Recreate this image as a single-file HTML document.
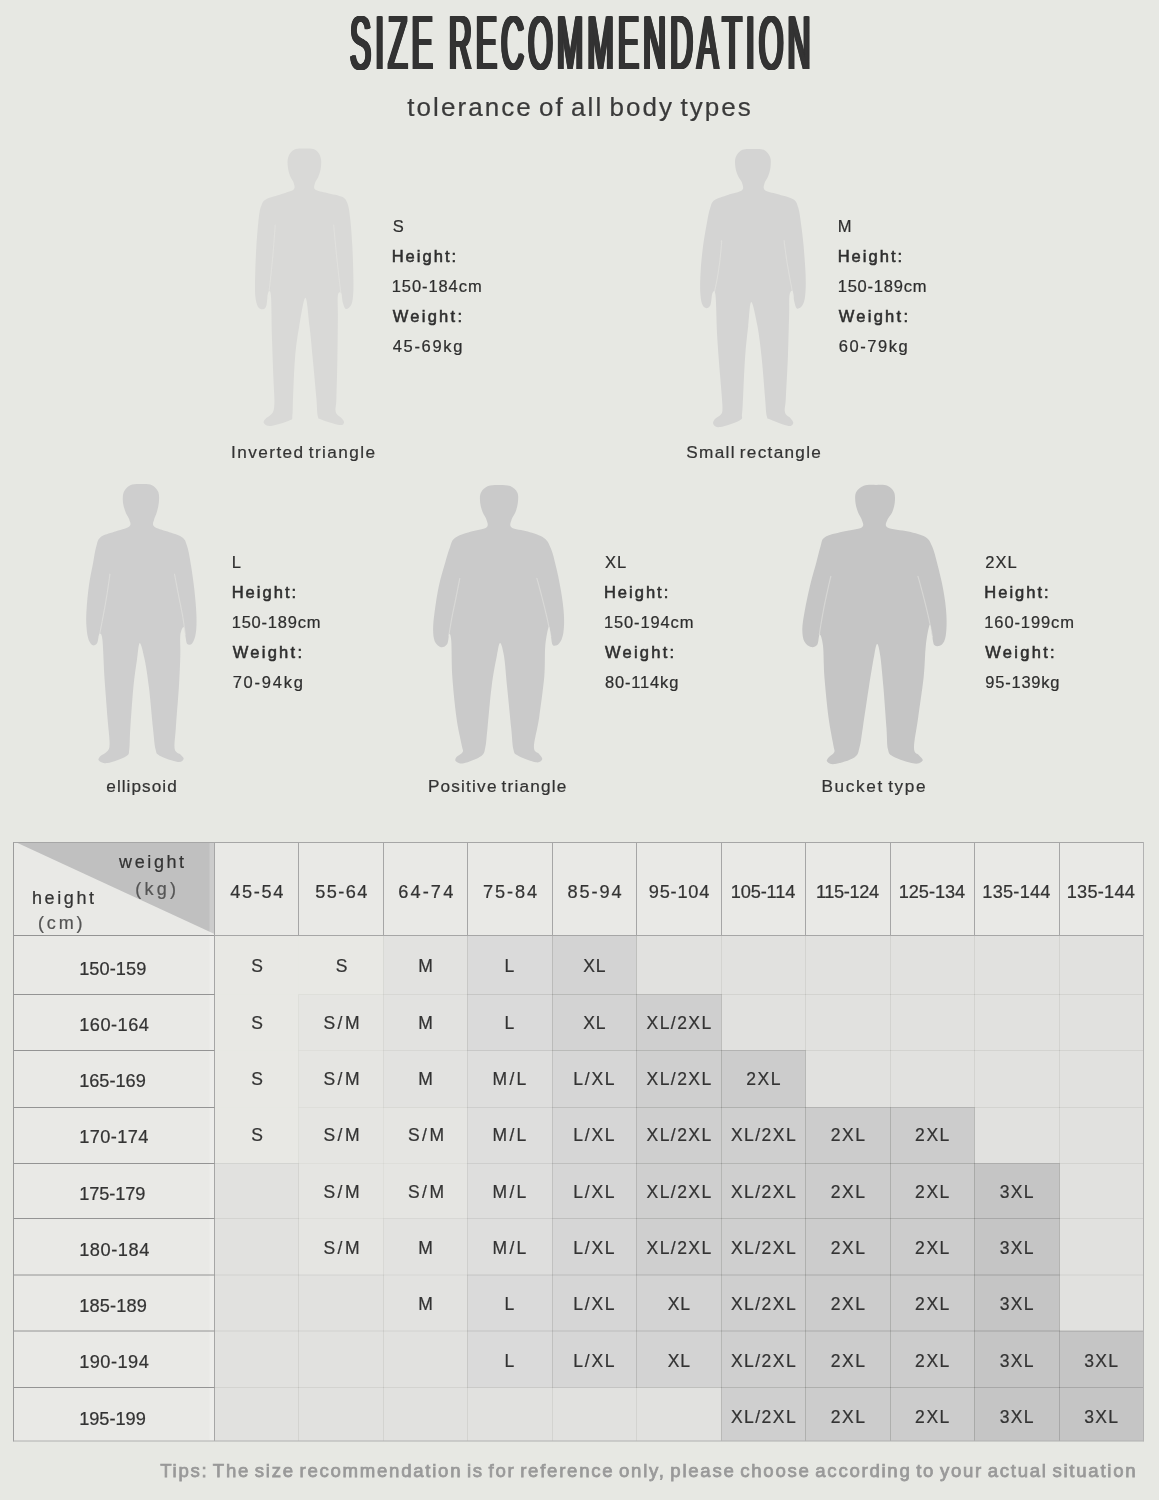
<!DOCTYPE html>
<html lang="en"><head><meta charset="utf-8"><title>Size Recommendation</title>
<style>
html,body{margin:0;padding:0;background:#e7e8e3;overflow:hidden;}
#page{position:relative;width:1159px;height:1500px;background:#e7e8e3;overflow:hidden;font-family:"Liberation Sans", sans-serif;color:#333;}
#gfx{position:absolute;left:0;top:0;}
#txt{position:absolute;left:0;top:0;width:1159px;height:1500px;will-change:transform;}
.t{position:absolute;white-space:nowrap;line-height:1;-webkit-text-stroke:.22px currentColor;}
.m{-webkit-text-stroke:.55px #2e2e2e;}
.tip{-webkit-text-stroke:.75px #999;}
#title{position:absolute;left:350.00px;top:5.6px;font-size:75.4px;line-height:1;white-space:nowrap;color:#333;
 font-kerning:none;letter-spacing:9.85px;word-spacing:-2.4px;transform-origin:0 0;transform:scaleX(0.42);
 text-shadow:1px 0 0 #333,-1px 0 0 #333,2px 0 0 #333,-2px 0 0 #333,3px 0 0 #333,-3px 0 0 #333,3.8px 0 0 #333,-3.8px 0 0 #333,0 .3px 0 #333,0 -.3px 0 #333;}
</style></head>
<body><div id="page">
<svg id="gfx" width="1159" height="1500" viewBox="0 0 1159 1500">
<path d="M304.8 148.6C308.2 148.6 312.1 148.3 314.7 149.6C317.3 151.0 319.5 153.9 320.5 156.9C321.5 159.8 321.3 163.9 320.9 167.2C320.6 170.5 319.4 173.9 318.4 176.5C317.5 179.1 315.7 180.5 315.1 182.7C314.6 184.9 313.1 187.8 315.1 189.5C317.1 191.2 322.5 191.7 327.1 193.0C331.7 194.3 339.2 195.3 342.6 197.1C346.0 199.0 346.5 200.8 347.8 204.4C349.0 208.0 349.5 212.0 350.2 218.8C351.0 225.7 351.8 236.4 352.3 245.7C352.8 255.0 353.2 266.4 353.3 274.6C353.5 282.9 353.6 290.1 353.1 295.3C352.7 300.5 352.1 303.3 350.9 305.6C349.6 307.9 347.0 309.4 345.7 308.9C344.4 308.4 343.6 305.1 342.8 302.5C342.1 299.9 342.0 294.4 341.2 293.2C340.3 292.0 338.4 291.5 337.9 295.3C337.3 299.1 337.9 305.6 337.9 316.0C337.8 326.3 337.7 343.5 337.4 357.3C337.2 371.0 336.7 389.5 336.4 398.6C336.1 407.7 334.9 408.8 335.8 412.0C336.6 415.3 340.2 416.5 341.6 418.2C342.9 419.9 344.4 421.2 344.0 422.4C343.7 423.5 343.2 425.5 339.5 425.0C335.8 424.6 325.6 421.2 321.9 419.7C318.3 418.2 318.7 419.7 317.8 416.2C316.9 412.6 317.2 408.4 316.4 398.6C315.5 388.8 313.8 369.3 312.6 357.3C311.5 345.2 310.8 336.2 309.5 326.3C308.3 316.4 307.1 297.8 305.4 297.8C303.7 297.8 300.9 316.4 299.2 326.3C297.5 336.2 296.1 345.2 295.1 357.3C294.0 369.3 293.5 389.0 293.0 398.6C292.6 408.2 292.9 411.5 292.4 415.1C291.9 418.7 293.4 418.5 289.9 420.3C286.4 422.1 275.6 425.4 271.3 425.9C267.0 426.4 265.1 424.5 264.1 423.4C263.1 422.3 263.7 421.0 265.1 419.3C266.5 417.5 270.8 415.8 272.4 413.1C273.9 410.3 274.2 408.6 274.4 402.7C274.6 396.9 273.8 389.0 273.4 377.9C273.0 366.9 272.4 350.4 271.9 336.6C271.5 322.8 271.6 302.5 270.9 295.3C270.3 288.1 268.8 291.5 268.0 293.2C267.3 294.9 267.2 302.9 266.4 305.6C265.5 308.3 264.5 309.2 263.1 309.3C261.6 309.5 259.2 309.0 257.9 306.7C256.6 304.3 255.7 300.6 255.2 295.3C254.8 290.0 255.0 282.9 255.2 274.6C255.4 266.4 255.8 255.3 256.4 245.7C257.1 236.1 258.1 223.5 258.9 216.8C259.8 210.1 260.2 208.3 261.4 205.4C262.6 202.5 262.8 201.1 266.2 199.2C269.5 197.3 277.1 195.7 281.7 194.0C286.2 192.4 291.6 191.4 293.6 189.5C295.6 187.6 294.2 184.9 293.6 182.7C293.1 180.5 291.3 179.1 290.3 176.5C289.4 173.9 288.2 170.5 287.9 167.2C287.5 163.9 287.2 159.8 288.3 156.9C289.4 153.9 291.7 151.0 294.5 149.6C297.2 148.3 301.4 148.6 304.8 148.6Z" fill="#d9d9d7"/><path d="M275.0 226.1C275.8 219.2 273.7 245.2 273.0 254.0C272.2 262.7 271.3 271.9 270.5 278.8C269.7 285.6 267.7 304.1 268.4 295.3" fill="none" stroke="#e7e8e3" stroke-opacity=".5" stroke-width="1.2" stroke-linecap="round"/><path d="M333.9 226.1C333.1 219.4 335.5 245.2 336.4 254.0C337.3 262.7 338.3 272.0 339.1 278.8C339.9 285.5 342.0 303.0 341.2 294.3" fill="none" stroke="#e7e8e3" stroke-opacity=".5" stroke-width="1.2" stroke-linecap="round"/>
<path d="M753.3 149.0C756.9 149.0 760.9 148.5 763.7 149.8C766.5 151.1 768.9 154.0 770.1 156.9C771.2 159.8 770.8 163.9 770.5 167.2C770.2 170.5 769.0 173.9 768.0 176.5C767.1 179.1 765.3 180.4 764.7 182.7C764.2 184.9 762.6 188.0 764.7 189.9C766.8 191.8 772.4 192.5 777.1 194.0C781.9 195.6 789.7 197.0 793.2 199.2C796.7 201.5 796.9 203.5 798.2 207.5C799.5 211.4 800.0 216.6 800.9 223.0C801.8 229.3 802.8 237.1 803.6 245.7C804.3 254.3 805.3 266.4 805.6 274.6C805.9 282.9 805.8 290.1 805.2 295.3C804.7 300.5 803.7 303.4 802.3 305.6C800.9 307.8 798.3 309.2 796.9 308.5C795.6 307.8 795.0 304.4 794.3 301.5C793.5 298.6 793.4 292.2 792.6 291.2C791.8 290.1 790.1 291.2 789.5 295.3C788.9 299.4 789.4 305.6 789.1 316.0C788.8 326.3 788.4 343.5 787.9 357.3C787.3 371.0 786.3 389.4 785.8 398.6C785.3 407.8 784.2 409.4 785.0 412.6C785.8 415.9 789.2 416.5 790.5 418.2C791.9 419.9 793.6 421.7 793.2 423.0C792.9 424.2 792.2 426.4 788.5 425.9C784.8 425.3 774.5 421.3 770.9 419.7C767.3 418.1 767.7 419.7 766.8 416.2C765.8 412.6 766.0 408.4 765.1 398.6C764.3 388.8 762.9 369.3 761.6 357.3C760.3 345.2 759.2 335.5 757.5 326.3C755.8 317.1 752.8 301.9 751.3 301.9C749.7 301.9 749.2 317.1 748.2 326.3C747.1 335.5 745.9 345.2 745.1 357.3C744.2 369.3 743.5 389.1 743.0 398.6C742.5 408.1 742.5 410.5 742.0 414.1C741.5 417.7 743.5 418.1 739.9 420.3C736.3 422.5 724.7 426.4 720.3 427.1C715.9 427.8 714.4 425.7 713.5 424.4C712.5 423.1 713.4 421.0 714.7 419.3C716.0 417.5 720.0 416.5 721.3 414.1C722.6 411.7 722.5 410.8 722.4 404.8C722.2 398.8 721.2 389.3 720.3 377.9C719.4 366.6 718.0 350.4 717.2 336.6C716.4 322.8 716.3 302.5 715.5 295.3C714.7 288.1 713.3 291.6 712.4 293.2C711.6 294.9 711.5 302.7 710.4 305.2C709.3 307.7 707.2 308.4 705.8 308.1C704.4 307.8 702.8 306.4 701.9 303.6C701.0 300.7 700.5 296.7 700.2 291.2C700.0 285.6 700.2 278.1 700.7 270.5C701.1 262.9 702.1 253.6 703.1 245.7C704.2 237.8 705.7 229.2 706.9 223.0C708.0 216.7 708.9 211.9 710.2 208.1C711.4 204.3 711.3 202.5 714.3 200.2C717.3 198.0 723.3 196.5 727.9 194.9C732.5 193.2 739.6 192.4 742.0 190.3C744.3 188.3 742.6 185.0 742.0 182.7C741.4 180.4 739.4 179.1 738.3 176.5C737.2 173.9 735.8 170.5 735.4 167.2C735.0 163.9 734.6 159.8 735.8 156.9C737.0 154.0 739.5 151.1 742.4 149.8C745.3 148.5 749.8 149.0 753.3 149.0Z" fill="#d4d4d3"/><path d="M721.3 241.6C722.4 236.1 720.5 255.3 719.7 262.2C718.8 269.1 717.5 277.4 716.4 282.9C715.3 288.4 712.2 302.2 713.1 295.3" fill="none" stroke="#e7e8e3" stroke-opacity=".5" stroke-width="1.2" stroke-linecap="round"/><path d="M784.3 241.6C783.3 236.1 786.0 255.3 787.0 262.2C788.1 269.1 789.7 277.4 790.7 282.9C791.8 288.4 794.3 302.2 793.2 295.3" fill="none" stroke="#e7e8e3" stroke-opacity=".5" stroke-width="1.2" stroke-linecap="round"/>
<path d="M141.7 484.1C145.3 484.1 149.2 483.9 152.0 485.3C154.8 486.7 157.3 489.4 158.4 492.3C159.5 495.3 159.1 499.7 158.8 503.1C158.5 506.4 157.5 509.6 156.7 512.4C156.0 515.1 154.5 517.3 154.1 519.6C153.6 522.0 151.8 524.4 154.1 526.4C156.3 528.4 162.8 529.8 167.5 531.6C172.1 533.4 178.7 534.9 182.0 537.2C185.2 539.5 185.5 541.1 186.9 545.5C188.4 549.8 189.4 555.6 190.6 563.0C191.9 570.4 193.4 581.3 194.4 589.9C195.3 598.5 196.2 607.5 196.4 614.7C196.7 621.9 196.5 628.6 195.8 633.3C195.1 638.1 193.7 641.4 192.3 643.2C190.9 645.0 188.5 645.4 187.3 644.1C186.2 642.7 185.9 638.2 185.3 635.4C184.7 632.5 184.4 627.1 183.6 627.1C182.8 627.1 180.9 630.6 180.3 635.4C179.8 640.2 180.6 647.4 180.3 656.0C180.1 664.7 179.6 675.0 178.9 687.1C178.1 699.1 176.5 718.1 175.8 728.4C175.1 738.7 173.9 744.7 174.7 749.1C175.6 753.5 179.4 753.2 180.9 754.9C182.4 756.5 184.1 757.8 183.6 759.0C183.1 760.2 181.8 762.4 177.8 761.9C173.8 761.3 163.4 757.8 159.6 755.7C155.9 753.5 156.6 753.6 155.5 749.1C154.4 744.5 154.1 738.7 153.0 728.4C151.9 718.1 150.3 698.4 148.9 687.1C147.5 675.7 146.3 667.5 144.8 660.2C143.2 652.8 141.1 643.0 139.8 643.0C138.5 643.0 138.0 652.8 136.9 660.2C135.8 667.5 134.5 675.7 133.4 687.1C132.3 698.4 131.0 718.1 130.3 728.4C129.6 738.7 129.9 744.4 129.3 749.1C128.6 753.7 129.8 754.0 126.1 756.3C122.5 758.6 112.1 762.4 107.5 763.1C103.0 763.8 100.1 761.6 98.9 760.4C97.7 759.3 98.9 757.9 100.3 756.3C101.8 754.8 106.0 753.4 107.5 751.1C109.1 748.9 109.6 748.4 109.6 742.9C109.6 737.4 108.4 729.1 107.5 718.1C106.7 707.0 105.3 689.8 104.4 676.7C103.6 663.6 103.2 646.6 102.4 639.5C101.5 632.4 100.1 633.8 99.3 634.3C98.4 634.9 98.3 641.2 97.2 643.0C96.1 644.8 94.1 645.9 92.7 645.3C91.2 644.7 89.6 642.5 88.5 639.5C87.5 636.5 86.8 631.9 86.5 627.1C86.1 622.3 86.0 617.5 86.5 610.6C86.9 603.7 87.8 593.7 88.9 585.8C90.0 577.8 91.8 569.6 93.1 563.0C94.3 556.4 95.1 550.4 96.4 546.1C97.6 541.8 97.6 539.6 100.5 537.2C103.5 534.8 109.4 533.6 114.2 531.8C118.9 530.0 126.7 528.5 129.3 526.4C131.8 524.4 129.8 522.0 129.3 519.6C128.7 517.3 126.8 515.1 125.7 512.4C124.7 509.6 123.4 506.4 123.0 503.1C122.7 499.7 122.5 495.3 123.7 492.3C124.9 489.4 127.3 486.7 130.3 485.3C133.3 483.9 138.0 484.1 141.7 484.1Z" fill="#cecece"/><path d="M109.6 575.4C110.8 569.2 107.8 589.2 106.7 596.1C105.6 603.0 104.2 610.6 103.0 616.8C101.8 623.0 98.6 640.2 99.7 633.3" fill="none" stroke="#e7e8e3" stroke-opacity=".5" stroke-width="1.2" stroke-linecap="round"/><path d="M174.7 575.4C173.7 569.2 177.3 589.2 178.7 596.1C180.0 603.0 181.8 610.6 182.8 616.8C183.8 623.0 186.2 640.2 184.9 633.3" fill="none" stroke="#e7e8e3" stroke-opacity=".5" stroke-width="1.2" stroke-linecap="round"/>
<path d="M498.8 484.9C502.5 484.9 507.1 484.8 510.2 486.1C513.3 487.4 516.1 489.9 517.4 492.7C518.7 495.5 518.2 499.8 517.8 503.1C517.5 506.3 516.4 509.6 515.4 512.3C514.3 515.1 512.3 517.1 511.6 519.6C511.0 522.1 508.9 525.4 511.6 527.4C514.3 529.4 522.3 529.8 527.7 531.6C533.2 533.3 540.4 535.3 544.3 538.2C548.1 541.0 549.0 544.0 550.9 548.5C552.8 553.0 554.0 558.1 555.6 565.0C557.3 571.9 559.4 581.5 560.8 589.8C562.2 598.1 563.5 607.4 563.9 614.6C564.3 621.8 564.1 628.4 563.3 633.2C562.5 638.0 560.9 641.5 559.1 643.5C557.4 645.5 554.3 646.4 552.9 645.2C551.6 644.0 551.6 639.3 550.9 636.3C550.2 633.3 549.7 625.4 548.8 627.0C547.9 628.5 546.1 637.3 545.3 645.6C544.5 653.8 545.3 664.5 544.3 676.6C543.2 688.6 540.8 706.2 539.1 717.9C537.4 729.6 533.9 740.8 533.9 746.8C533.9 752.8 537.7 752.0 539.1 754.0C540.5 756.1 542.7 757.8 542.2 759.2C541.7 760.6 540.1 762.9 536.0 762.3C531.9 761.7 521.6 757.7 517.8 755.5C514.0 753.2 514.4 753.4 513.3 748.9C512.2 744.3 512.3 738.5 511.2 728.2C510.2 717.9 508.3 698.9 507.1 686.9C505.9 674.8 505.2 663.2 504.0 655.9C502.8 648.6 501.3 642.9 500.1 642.9C498.9 642.9 498.2 648.6 496.8 655.9C495.3 663.2 493.1 674.8 491.6 686.9C490.0 698.9 488.5 718.2 487.5 728.2C486.4 738.2 486.4 742.2 485.4 746.8C484.4 751.5 484.9 753.3 481.3 756.1C477.7 758.9 467.9 762.5 463.7 763.3C459.5 764.2 457.1 762.3 455.9 761.3C454.7 760.2 455.3 758.7 456.5 757.1C457.6 755.6 461.8 754.0 462.7 752.0C463.5 749.9 462.7 750.4 461.6 744.7C460.6 739.1 458.0 729.2 456.5 717.9C454.9 706.5 453.2 689.3 452.3 676.6C451.5 663.8 451.8 648.5 451.3 641.5C450.8 634.4 449.9 633.8 449.2 634.2C448.6 634.6 448.6 641.8 447.2 643.9C445.8 646.1 443.1 647.6 441.0 647.2C438.9 646.8 436.1 644.5 434.8 641.5C433.5 638.4 433.1 634.2 433.1 629.1C433.1 623.9 433.8 617.7 434.8 610.5C435.8 603.2 437.2 593.6 438.9 585.7C440.6 577.8 443.3 569.2 445.1 563.0C446.9 556.7 448.1 552.2 449.7 548.1C451.2 544.0 451.2 540.9 454.6 538.2C458.1 535.4 465.0 533.6 470.3 531.8C475.6 530.0 483.7 529.5 486.4 527.4C489.1 525.4 487.1 522.1 486.4 519.6C485.8 517.1 483.7 515.1 482.7 512.3C481.7 509.6 480.5 506.3 480.2 503.1C479.9 499.8 479.5 495.5 480.9 492.7C482.2 489.9 485.1 487.4 488.1 486.1C491.1 484.8 495.1 484.9 498.8 484.9Z" fill="#cacaca"/><path d="M459.6 579.5C460.7 573.5 457.2 591.5 455.9 598.1C454.6 604.6 452.8 612.7 451.7 618.7C450.6 624.8 447.9 640.8 449.2 634.2" fill="none" stroke="#e7e8e3" stroke-opacity=".5" stroke-width="1.2" stroke-linecap="round"/><path d="M537.0 579.5C535.7 573.3 540.5 591.5 542.2 598.1C543.9 604.6 545.8 612.5 547.2 618.7C548.5 624.9 552.2 641.8 550.5 635.3" fill="none" stroke="#e7e8e3" stroke-opacity=".5" stroke-width="1.2" stroke-linecap="round"/>
<path d="M876.1 484.9C880.1 484.9 884.5 484.5 887.5 485.7C890.5 487.0 892.9 489.4 894.1 492.3C895.3 495.2 895.1 499.7 894.7 503.1C894.4 506.4 893.3 509.6 892.1 512.4C890.8 515.1 888.3 517.1 887.5 519.6C886.7 522.1 884.1 525.5 887.5 527.5C891.0 529.5 901.8 530.0 908.2 531.6C914.6 533.2 921.8 534.7 925.8 537.2C929.7 539.7 930.3 542.2 932.2 546.5C934.1 550.8 935.3 555.8 937.1 563.0C939.0 570.3 941.8 581.3 943.3 589.9C944.9 598.5 946.0 607.1 946.4 614.7C946.8 622.3 946.6 630.4 945.8 635.4C945.0 640.4 943.5 643.0 941.7 644.7C939.8 646.3 936.2 646.7 934.6 645.3C933.1 643.9 933.0 639.8 932.2 636.4C931.3 633.0 930.7 623.5 929.7 625.1C928.6 626.6 926.8 637.1 925.8 645.7C924.8 654.3 925.0 664.7 923.7 676.7C922.4 688.8 919.7 706.2 918.1 718.1C916.5 730.0 913.8 741.9 914.0 748.1C914.1 754.3 917.5 753.2 918.9 755.3C920.4 757.4 923.4 759.1 922.7 760.5C921.9 761.8 919.3 764.2 914.4 763.6C909.5 762.9 897.5 759.0 893.1 756.5C888.7 754.1 889.0 753.8 887.9 749.1C886.8 744.4 887.2 738.8 886.5 728.4C885.7 718.1 884.4 699.1 883.4 687.1C882.3 675.0 881.3 663.2 880.3 656.1C879.2 648.9 878.2 644.1 877.2 644.1C876.1 644.1 875.4 648.9 874.1 656.1C872.7 663.2 870.8 675.0 868.9 687.1C867.0 699.1 864.2 718.4 862.7 728.4C861.1 738.4 861.0 742.2 859.6 747.0C858.2 751.9 858.6 754.5 854.4 757.4C850.3 760.2 839.3 763.3 834.8 764.0C830.2 764.7 828.2 762.6 827.1 761.5C826.1 760.4 827.4 758.9 828.6 757.4C829.8 755.8 833.4 754.3 834.2 752.2C835.0 750.1 834.3 750.6 833.3 745.0C832.4 739.3 830.1 729.5 828.6 718.1C827.1 706.7 825.4 688.8 824.4 676.7C823.5 664.7 823.8 652.8 823.0 645.7C822.2 638.7 820.7 634.5 819.7 634.4C818.7 634.2 818.7 642.6 817.2 644.7C815.8 646.8 813.1 647.5 811.0 647.0C808.9 646.5 805.8 644.6 804.4 641.6C802.9 638.6 802.3 634.4 802.3 629.2C802.4 624.0 803.5 617.8 804.8 610.6C806.1 603.3 808.1 593.7 810.0 585.8C811.9 577.8 814.4 569.6 816.2 563.0C817.9 556.5 819.1 550.8 820.5 546.5C822.0 542.2 821.2 539.6 824.9 537.2C828.5 534.7 836.3 533.4 842.4 531.8C848.6 530.2 858.5 529.5 861.7 527.5C864.9 525.4 862.2 522.1 861.7 519.6C861.1 517.1 859.2 515.1 858.1 512.4C857.1 509.6 855.8 506.4 855.5 503.1C855.1 499.7 854.7 495.2 856.1 492.3C857.5 489.4 860.4 487.0 863.7 485.7C867.1 484.5 872.2 484.9 876.1 484.9Z" fill="#c5c5c5"/><path d="M830.7 577.5C831.8 571.3 827.7 589.7 826.3 596.1C824.9 602.5 823.5 609.5 822.4 615.8C821.3 622.0 818.3 639.7 819.7 633.3" fill="none" stroke="#e7e8e3" stroke-opacity=".5" stroke-width="1.2" stroke-linecap="round"/><path d="M918.1 577.5C916.8 571.3 922.1 591.3 923.9 598.2C925.7 605.1 927.5 612.7 928.9 618.9C930.2 625.1 933.7 642.3 932.0 635.4" fill="none" stroke="#e7e8e3" stroke-opacity=".5" stroke-width="1.2" stroke-linecap="round"/>
<rect x="13.5" y="842.5" width="1130.0" height="93.0" fill="#e9e9e6"/>
<path d="M16.5 842.5 L214.5 842.5 L214.5 934.0 Z" fill="#c0c0c0"/>
<rect x="13.5" y="935.5" width="201.0" height="505.5" fill="#e9e9e6"/>
<rect x="214.5" y="935.5" width="84.0" height="59.0" fill="#e8e8e4"/>
<rect x="298.5" y="935.5" width="85.0" height="59.0" fill="#e8e8e4"/>
<rect x="383.5" y="935.5" width="84.0" height="59.0" fill="#e2e2e0"/>
<rect x="467.5" y="935.5" width="85.0" height="59.0" fill="#dadada"/>
<rect x="552.5" y="935.5" width="84.0" height="59.0" fill="#d3d3d3"/>
<rect x="636.5" y="935.5" width="85.0" height="59.0" fill="#e1e1df"/>
<rect x="721.5" y="935.5" width="84.0" height="59.0" fill="#e1e1df"/>
<rect x="805.5" y="935.5" width="85.0" height="59.0" fill="#e1e1df"/>
<rect x="890.5" y="935.5" width="84.0" height="59.0" fill="#e1e1df"/>
<rect x="974.5" y="935.5" width="85.0" height="59.0" fill="#e1e1df"/>
<rect x="1059.5" y="935.5" width="84.0" height="59.0" fill="#e1e1df"/>
<rect x="214.5" y="994.5" width="84.0" height="56.0" fill="#e8e8e4"/>
<rect x="298.5" y="994.5" width="85.0" height="56.0" fill="#e5e5e2"/>
<rect x="383.5" y="994.5" width="84.0" height="56.0" fill="#e2e2e0"/>
<rect x="467.5" y="994.5" width="85.0" height="56.0" fill="#dadada"/>
<rect x="552.5" y="994.5" width="84.0" height="56.0" fill="#d3d3d3"/>
<rect x="636.5" y="994.5" width="85.0" height="56.0" fill="#cfcfcf"/>
<rect x="721.5" y="994.5" width="84.0" height="56.0" fill="#e1e1df"/>
<rect x="805.5" y="994.5" width="85.0" height="56.0" fill="#e1e1df"/>
<rect x="890.5" y="994.5" width="84.0" height="56.0" fill="#e1e1df"/>
<rect x="974.5" y="994.5" width="85.0" height="56.0" fill="#e1e1df"/>
<rect x="1059.5" y="994.5" width="84.0" height="56.0" fill="#e1e1df"/>
<rect x="214.5" y="1050.5" width="84.0" height="57.0" fill="#e8e8e4"/>
<rect x="298.5" y="1050.5" width="85.0" height="57.0" fill="#e5e5e2"/>
<rect x="383.5" y="1050.5" width="84.0" height="57.0" fill="#e2e2e0"/>
<rect x="467.5" y="1050.5" width="85.0" height="57.0" fill="#dededd"/>
<rect x="552.5" y="1050.5" width="84.0" height="57.0" fill="#d6d6d6"/>
<rect x="636.5" y="1050.5" width="85.0" height="57.0" fill="#cfcfcf"/>
<rect x="721.5" y="1050.5" width="84.0" height="57.0" fill="#cccccc"/>
<rect x="805.5" y="1050.5" width="85.0" height="57.0" fill="#e1e1df"/>
<rect x="890.5" y="1050.5" width="84.0" height="57.0" fill="#e1e1df"/>
<rect x="974.5" y="1050.5" width="85.0" height="57.0" fill="#e1e1df"/>
<rect x="1059.5" y="1050.5" width="84.0" height="57.0" fill="#e1e1df"/>
<rect x="214.5" y="1107.5" width="84.0" height="56.0" fill="#e8e8e4"/>
<rect x="298.5" y="1107.5" width="85.0" height="56.0" fill="#e5e5e2"/>
<rect x="383.5" y="1107.5" width="84.0" height="56.0" fill="#e5e5e2"/>
<rect x="467.5" y="1107.5" width="85.0" height="56.0" fill="#dededd"/>
<rect x="552.5" y="1107.5" width="84.0" height="56.0" fill="#d6d6d6"/>
<rect x="636.5" y="1107.5" width="85.0" height="56.0" fill="#cfcfcf"/>
<rect x="721.5" y="1107.5" width="84.0" height="56.0" fill="#cfcfcf"/>
<rect x="805.5" y="1107.5" width="85.0" height="56.0" fill="#cccccc"/>
<rect x="890.5" y="1107.5" width="84.0" height="56.0" fill="#cccccc"/>
<rect x="974.5" y="1107.5" width="85.0" height="56.0" fill="#e1e1df"/>
<rect x="1059.5" y="1107.5" width="84.0" height="56.0" fill="#e1e1df"/>
<rect x="214.5" y="1163.5" width="84.0" height="55.0" fill="#e1e1df"/>
<rect x="298.5" y="1163.5" width="85.0" height="55.0" fill="#e5e5e2"/>
<rect x="383.5" y="1163.5" width="84.0" height="55.0" fill="#e5e5e2"/>
<rect x="467.5" y="1163.5" width="85.0" height="55.0" fill="#dededd"/>
<rect x="552.5" y="1163.5" width="84.0" height="55.0" fill="#d6d6d6"/>
<rect x="636.5" y="1163.5" width="85.0" height="55.0" fill="#cfcfcf"/>
<rect x="721.5" y="1163.5" width="84.0" height="55.0" fill="#cfcfcf"/>
<rect x="805.5" y="1163.5" width="85.0" height="55.0" fill="#cccccc"/>
<rect x="890.5" y="1163.5" width="84.0" height="55.0" fill="#cccccc"/>
<rect x="974.5" y="1163.5" width="85.0" height="55.0" fill="#c5c5c5"/>
<rect x="1059.5" y="1163.5" width="84.0" height="55.0" fill="#e1e1df"/>
<rect x="214.5" y="1218.5" width="84.0" height="56.5" fill="#e1e1df"/>
<rect x="298.5" y="1218.5" width="85.0" height="56.5" fill="#e5e5e2"/>
<rect x="383.5" y="1218.5" width="84.0" height="56.5" fill="#e2e2e0"/>
<rect x="467.5" y="1218.5" width="85.0" height="56.5" fill="#dededd"/>
<rect x="552.5" y="1218.5" width="84.0" height="56.5" fill="#d6d6d6"/>
<rect x="636.5" y="1218.5" width="85.0" height="56.5" fill="#cfcfcf"/>
<rect x="721.5" y="1218.5" width="84.0" height="56.5" fill="#cfcfcf"/>
<rect x="805.5" y="1218.5" width="85.0" height="56.5" fill="#cccccc"/>
<rect x="890.5" y="1218.5" width="84.0" height="56.5" fill="#cccccc"/>
<rect x="974.5" y="1218.5" width="85.0" height="56.5" fill="#c5c5c5"/>
<rect x="1059.5" y="1218.5" width="84.0" height="56.5" fill="#e1e1df"/>
<rect x="214.5" y="1275.0" width="84.0" height="56.0" fill="#e1e1df"/>
<rect x="298.5" y="1275.0" width="85.0" height="56.0" fill="#e1e1df"/>
<rect x="383.5" y="1275.0" width="84.0" height="56.0" fill="#e2e2e0"/>
<rect x="467.5" y="1275.0" width="85.0" height="56.0" fill="#dadada"/>
<rect x="552.5" y="1275.0" width="84.0" height="56.0" fill="#d6d6d6"/>
<rect x="636.5" y="1275.0" width="85.0" height="56.0" fill="#d3d3d3"/>
<rect x="721.5" y="1275.0" width="84.0" height="56.0" fill="#cfcfcf"/>
<rect x="805.5" y="1275.0" width="85.0" height="56.0" fill="#cccccc"/>
<rect x="890.5" y="1275.0" width="84.0" height="56.0" fill="#cccccc"/>
<rect x="974.5" y="1275.0" width="85.0" height="56.0" fill="#c5c5c5"/>
<rect x="1059.5" y="1275.0" width="84.0" height="56.0" fill="#e1e1df"/>
<rect x="214.5" y="1331.0" width="84.0" height="56.5" fill="#e1e1df"/>
<rect x="298.5" y="1331.0" width="85.0" height="56.5" fill="#e1e1df"/>
<rect x="383.5" y="1331.0" width="84.0" height="56.5" fill="#e1e1df"/>
<rect x="467.5" y="1331.0" width="85.0" height="56.5" fill="#dadada"/>
<rect x="552.5" y="1331.0" width="84.0" height="56.5" fill="#d6d6d6"/>
<rect x="636.5" y="1331.0" width="85.0" height="56.5" fill="#d3d3d3"/>
<rect x="721.5" y="1331.0" width="84.0" height="56.5" fill="#cfcfcf"/>
<rect x="805.5" y="1331.0" width="85.0" height="56.5" fill="#cccccc"/>
<rect x="890.5" y="1331.0" width="84.0" height="56.5" fill="#cccccc"/>
<rect x="974.5" y="1331.0" width="85.0" height="56.5" fill="#c5c5c5"/>
<rect x="1059.5" y="1331.0" width="84.0" height="56.5" fill="#c5c5c5"/>
<rect x="214.5" y="1387.5" width="84.0" height="53.5" fill="#e1e1df"/>
<rect x="298.5" y="1387.5" width="85.0" height="53.5" fill="#e1e1df"/>
<rect x="383.5" y="1387.5" width="84.0" height="53.5" fill="#e1e1df"/>
<rect x="467.5" y="1387.5" width="85.0" height="53.5" fill="#e1e1df"/>
<rect x="552.5" y="1387.5" width="84.0" height="53.5" fill="#e1e1df"/>
<rect x="636.5" y="1387.5" width="85.0" height="53.5" fill="#e1e1df"/>
<rect x="721.5" y="1387.5" width="84.0" height="53.5" fill="#cfcfcf"/>
<rect x="805.5" y="1387.5" width="85.0" height="53.5" fill="#cccccc"/>
<rect x="890.5" y="1387.5" width="84.0" height="53.5" fill="#cccccc"/>
<rect x="974.5" y="1387.5" width="85.0" height="53.5" fill="#c5c5c5"/>
<rect x="1059.5" y="1387.5" width="84.0" height="53.5" fill="#c5c5c5"/>
<line x1="383.5" y1="935.5" x2="383.5" y2="994.5" stroke="#000" stroke-opacity="0.05" stroke-width="1"/>
<line x1="298.5" y1="994.5" x2="383.5" y2="994.5" stroke="#000" stroke-opacity="0.03" stroke-width="1"/>
<line x1="467.5" y1="935.5" x2="467.5" y2="994.5" stroke="#000" stroke-opacity="0.1" stroke-width="1"/>
<line x1="383.5" y1="994.5" x2="467.5" y2="994.5" stroke="#000" stroke-opacity="0.05" stroke-width="1"/>
<line x1="552.5" y1="935.5" x2="552.5" y2="994.5" stroke="#000" stroke-opacity="0.14" stroke-width="1"/>
<line x1="467.5" y1="994.5" x2="552.5" y2="994.5" stroke="#000" stroke-opacity="0.1" stroke-width="1"/>
<line x1="636.5" y1="935.5" x2="636.5" y2="994.5" stroke="#000" stroke-opacity="0.14" stroke-width="1"/>
<line x1="552.5" y1="994.5" x2="636.5" y2="994.5" stroke="#000" stroke-opacity="0.14" stroke-width="1"/>
<line x1="721.5" y1="935.5" x2="721.5" y2="994.5" stroke="#000" stroke-opacity="0.07" stroke-width="1"/>
<line x1="636.5" y1="994.5" x2="721.5" y2="994.5" stroke="#000" stroke-opacity="0.15" stroke-width="1"/>
<line x1="805.5" y1="935.5" x2="805.5" y2="994.5" stroke="#000" stroke-opacity="0.07" stroke-width="1"/>
<line x1="721.5" y1="994.5" x2="805.5" y2="994.5" stroke="#000" stroke-opacity="0.07" stroke-width="1"/>
<line x1="890.5" y1="935.5" x2="890.5" y2="994.5" stroke="#000" stroke-opacity="0.07" stroke-width="1"/>
<line x1="805.5" y1="994.5" x2="890.5" y2="994.5" stroke="#000" stroke-opacity="0.07" stroke-width="1"/>
<line x1="974.5" y1="935.5" x2="974.5" y2="994.5" stroke="#000" stroke-opacity="0.07" stroke-width="1"/>
<line x1="890.5" y1="994.5" x2="974.5" y2="994.5" stroke="#000" stroke-opacity="0.07" stroke-width="1"/>
<line x1="1059.5" y1="935.5" x2="1059.5" y2="994.5" stroke="#000" stroke-opacity="0.07" stroke-width="1"/>
<line x1="974.5" y1="994.5" x2="1059.5" y2="994.5" stroke="#000" stroke-opacity="0.07" stroke-width="1"/>
<line x1="1059.5" y1="994.5" x2="1143.5" y2="994.5" stroke="#000" stroke-opacity="0.07" stroke-width="1"/>
<line x1="298.5" y1="994.5" x2="298.5" y2="1050.5" stroke="#000" stroke-opacity="0.03" stroke-width="1"/>
<line x1="383.5" y1="994.5" x2="383.5" y2="1050.5" stroke="#000" stroke-opacity="0.05" stroke-width="1"/>
<line x1="298.5" y1="1050.5" x2="383.5" y2="1050.5" stroke="#000" stroke-opacity="0.03" stroke-width="1"/>
<line x1="467.5" y1="994.5" x2="467.5" y2="1050.5" stroke="#000" stroke-opacity="0.1" stroke-width="1"/>
<line x1="383.5" y1="1050.5" x2="467.5" y2="1050.5" stroke="#000" stroke-opacity="0.05" stroke-width="1"/>
<line x1="552.5" y1="994.5" x2="552.5" y2="1050.5" stroke="#000" stroke-opacity="0.14" stroke-width="1"/>
<line x1="467.5" y1="1050.5" x2="552.5" y2="1050.5" stroke="#000" stroke-opacity="0.1" stroke-width="1"/>
<line x1="636.5" y1="994.5" x2="636.5" y2="1050.5" stroke="#000" stroke-opacity="0.15" stroke-width="1"/>
<line x1="552.5" y1="1050.5" x2="636.5" y2="1050.5" stroke="#000" stroke-opacity="0.14" stroke-width="1"/>
<line x1="721.5" y1="994.5" x2="721.5" y2="1050.5" stroke="#000" stroke-opacity="0.15" stroke-width="1"/>
<line x1="636.5" y1="1050.5" x2="721.5" y2="1050.5" stroke="#000" stroke-opacity="0.15" stroke-width="1"/>
<line x1="805.5" y1="994.5" x2="805.5" y2="1050.5" stroke="#000" stroke-opacity="0.07" stroke-width="1"/>
<line x1="721.5" y1="1050.5" x2="805.5" y2="1050.5" stroke="#000" stroke-opacity="0.17" stroke-width="1"/>
<line x1="890.5" y1="994.5" x2="890.5" y2="1050.5" stroke="#000" stroke-opacity="0.07" stroke-width="1"/>
<line x1="805.5" y1="1050.5" x2="890.5" y2="1050.5" stroke="#000" stroke-opacity="0.07" stroke-width="1"/>
<line x1="974.5" y1="994.5" x2="974.5" y2="1050.5" stroke="#000" stroke-opacity="0.07" stroke-width="1"/>
<line x1="890.5" y1="1050.5" x2="974.5" y2="1050.5" stroke="#000" stroke-opacity="0.07" stroke-width="1"/>
<line x1="1059.5" y1="994.5" x2="1059.5" y2="1050.5" stroke="#000" stroke-opacity="0.07" stroke-width="1"/>
<line x1="974.5" y1="1050.5" x2="1059.5" y2="1050.5" stroke="#000" stroke-opacity="0.07" stroke-width="1"/>
<line x1="1059.5" y1="1050.5" x2="1143.5" y2="1050.5" stroke="#000" stroke-opacity="0.07" stroke-width="1"/>
<line x1="298.5" y1="1050.5" x2="298.5" y2="1107.5" stroke="#000" stroke-opacity="0.03" stroke-width="1"/>
<line x1="383.5" y1="1050.5" x2="383.5" y2="1107.5" stroke="#000" stroke-opacity="0.05" stroke-width="1"/>
<line x1="298.5" y1="1107.5" x2="383.5" y2="1107.5" stroke="#000" stroke-opacity="0.03" stroke-width="1"/>
<line x1="467.5" y1="1050.5" x2="467.5" y2="1107.5" stroke="#000" stroke-opacity="0.08" stroke-width="1"/>
<line x1="383.5" y1="1107.5" x2="467.5" y2="1107.5" stroke="#000" stroke-opacity="0.05" stroke-width="1"/>
<line x1="552.5" y1="1050.5" x2="552.5" y2="1107.5" stroke="#000" stroke-opacity="0.12" stroke-width="1"/>
<line x1="467.5" y1="1107.5" x2="552.5" y2="1107.5" stroke="#000" stroke-opacity="0.08" stroke-width="1"/>
<line x1="636.5" y1="1050.5" x2="636.5" y2="1107.5" stroke="#000" stroke-opacity="0.15" stroke-width="1"/>
<line x1="552.5" y1="1107.5" x2="636.5" y2="1107.5" stroke="#000" stroke-opacity="0.12" stroke-width="1"/>
<line x1="721.5" y1="1050.5" x2="721.5" y2="1107.5" stroke="#000" stroke-opacity="0.17" stroke-width="1"/>
<line x1="636.5" y1="1107.5" x2="721.5" y2="1107.5" stroke="#000" stroke-opacity="0.15" stroke-width="1"/>
<line x1="805.5" y1="1050.5" x2="805.5" y2="1107.5" stroke="#000" stroke-opacity="0.17" stroke-width="1"/>
<line x1="721.5" y1="1107.5" x2="805.5" y2="1107.5" stroke="#000" stroke-opacity="0.17" stroke-width="1"/>
<line x1="890.5" y1="1050.5" x2="890.5" y2="1107.5" stroke="#000" stroke-opacity="0.07" stroke-width="1"/>
<line x1="805.5" y1="1107.5" x2="890.5" y2="1107.5" stroke="#000" stroke-opacity="0.17" stroke-width="1"/>
<line x1="974.5" y1="1050.5" x2="974.5" y2="1107.5" stroke="#000" stroke-opacity="0.07" stroke-width="1"/>
<line x1="890.5" y1="1107.5" x2="974.5" y2="1107.5" stroke="#000" stroke-opacity="0.17" stroke-width="1"/>
<line x1="1059.5" y1="1050.5" x2="1059.5" y2="1107.5" stroke="#000" stroke-opacity="0.07" stroke-width="1"/>
<line x1="974.5" y1="1107.5" x2="1059.5" y2="1107.5" stroke="#000" stroke-opacity="0.07" stroke-width="1"/>
<line x1="1059.5" y1="1107.5" x2="1143.5" y2="1107.5" stroke="#000" stroke-opacity="0.07" stroke-width="1"/>
<line x1="298.5" y1="1107.5" x2="298.5" y2="1163.5" stroke="#000" stroke-opacity="0.03" stroke-width="1"/>
<line x1="214.5" y1="1163.5" x2="298.5" y2="1163.5" stroke="#000" stroke-opacity="0.07" stroke-width="1"/>
<line x1="383.5" y1="1107.5" x2="383.5" y2="1163.5" stroke="#000" stroke-opacity="0.03" stroke-width="1"/>
<line x1="298.5" y1="1163.5" x2="383.5" y2="1163.5" stroke="#000" stroke-opacity="0.03" stroke-width="1"/>
<line x1="467.5" y1="1107.5" x2="467.5" y2="1163.5" stroke="#000" stroke-opacity="0.08" stroke-width="1"/>
<line x1="383.5" y1="1163.5" x2="467.5" y2="1163.5" stroke="#000" stroke-opacity="0.03" stroke-width="1"/>
<line x1="552.5" y1="1107.5" x2="552.5" y2="1163.5" stroke="#000" stroke-opacity="0.12" stroke-width="1"/>
<line x1="467.5" y1="1163.5" x2="552.5" y2="1163.5" stroke="#000" stroke-opacity="0.08" stroke-width="1"/>
<line x1="636.5" y1="1107.5" x2="636.5" y2="1163.5" stroke="#000" stroke-opacity="0.15" stroke-width="1"/>
<line x1="552.5" y1="1163.5" x2="636.5" y2="1163.5" stroke="#000" stroke-opacity="0.12" stroke-width="1"/>
<line x1="721.5" y1="1107.5" x2="721.5" y2="1163.5" stroke="#000" stroke-opacity="0.15" stroke-width="1"/>
<line x1="636.5" y1="1163.5" x2="721.5" y2="1163.5" stroke="#000" stroke-opacity="0.15" stroke-width="1"/>
<line x1="805.5" y1="1107.5" x2="805.5" y2="1163.5" stroke="#000" stroke-opacity="0.17" stroke-width="1"/>
<line x1="721.5" y1="1163.5" x2="805.5" y2="1163.5" stroke="#000" stroke-opacity="0.15" stroke-width="1"/>
<line x1="890.5" y1="1107.5" x2="890.5" y2="1163.5" stroke="#000" stroke-opacity="0.17" stroke-width="1"/>
<line x1="805.5" y1="1163.5" x2="890.5" y2="1163.5" stroke="#000" stroke-opacity="0.17" stroke-width="1"/>
<line x1="974.5" y1="1107.5" x2="974.5" y2="1163.5" stroke="#000" stroke-opacity="0.17" stroke-width="1"/>
<line x1="890.5" y1="1163.5" x2="974.5" y2="1163.5" stroke="#000" stroke-opacity="0.17" stroke-width="1"/>
<line x1="1059.5" y1="1107.5" x2="1059.5" y2="1163.5" stroke="#000" stroke-opacity="0.07" stroke-width="1"/>
<line x1="974.5" y1="1163.5" x2="1059.5" y2="1163.5" stroke="#000" stroke-opacity="0.18" stroke-width="1"/>
<line x1="1059.5" y1="1163.5" x2="1143.5" y2="1163.5" stroke="#000" stroke-opacity="0.07" stroke-width="1"/>
<line x1="298.5" y1="1163.5" x2="298.5" y2="1218.5" stroke="#000" stroke-opacity="0.07" stroke-width="1"/>
<line x1="214.5" y1="1218.5" x2="298.5" y2="1218.5" stroke="#000" stroke-opacity="0.07" stroke-width="1"/>
<line x1="383.5" y1="1163.5" x2="383.5" y2="1218.5" stroke="#000" stroke-opacity="0.03" stroke-width="1"/>
<line x1="298.5" y1="1218.5" x2="383.5" y2="1218.5" stroke="#000" stroke-opacity="0.03" stroke-width="1"/>
<line x1="467.5" y1="1163.5" x2="467.5" y2="1218.5" stroke="#000" stroke-opacity="0.08" stroke-width="1"/>
<line x1="383.5" y1="1218.5" x2="467.5" y2="1218.5" stroke="#000" stroke-opacity="0.05" stroke-width="1"/>
<line x1="552.5" y1="1163.5" x2="552.5" y2="1218.5" stroke="#000" stroke-opacity="0.12" stroke-width="1"/>
<line x1="467.5" y1="1218.5" x2="552.5" y2="1218.5" stroke="#000" stroke-opacity="0.08" stroke-width="1"/>
<line x1="636.5" y1="1163.5" x2="636.5" y2="1218.5" stroke="#000" stroke-opacity="0.15" stroke-width="1"/>
<line x1="552.5" y1="1218.5" x2="636.5" y2="1218.5" stroke="#000" stroke-opacity="0.12" stroke-width="1"/>
<line x1="721.5" y1="1163.5" x2="721.5" y2="1218.5" stroke="#000" stroke-opacity="0.15" stroke-width="1"/>
<line x1="636.5" y1="1218.5" x2="721.5" y2="1218.5" stroke="#000" stroke-opacity="0.15" stroke-width="1"/>
<line x1="805.5" y1="1163.5" x2="805.5" y2="1218.5" stroke="#000" stroke-opacity="0.17" stroke-width="1"/>
<line x1="721.5" y1="1218.5" x2="805.5" y2="1218.5" stroke="#000" stroke-opacity="0.15" stroke-width="1"/>
<line x1="890.5" y1="1163.5" x2="890.5" y2="1218.5" stroke="#000" stroke-opacity="0.17" stroke-width="1"/>
<line x1="805.5" y1="1218.5" x2="890.5" y2="1218.5" stroke="#000" stroke-opacity="0.17" stroke-width="1"/>
<line x1="974.5" y1="1163.5" x2="974.5" y2="1218.5" stroke="#000" stroke-opacity="0.18" stroke-width="1"/>
<line x1="890.5" y1="1218.5" x2="974.5" y2="1218.5" stroke="#000" stroke-opacity="0.17" stroke-width="1"/>
<line x1="1059.5" y1="1163.5" x2="1059.5" y2="1218.5" stroke="#000" stroke-opacity="0.18" stroke-width="1"/>
<line x1="974.5" y1="1218.5" x2="1059.5" y2="1218.5" stroke="#000" stroke-opacity="0.18" stroke-width="1"/>
<line x1="1059.5" y1="1218.5" x2="1143.5" y2="1218.5" stroke="#000" stroke-opacity="0.07" stroke-width="1"/>
<line x1="298.5" y1="1218.5" x2="298.5" y2="1275.0" stroke="#000" stroke-opacity="0.07" stroke-width="1"/>
<line x1="214.5" y1="1275.0" x2="298.5" y2="1275.0" stroke="#000" stroke-opacity="0.07" stroke-width="1"/>
<line x1="383.5" y1="1218.5" x2="383.5" y2="1275.0" stroke="#000" stroke-opacity="0.05" stroke-width="1"/>
<line x1="298.5" y1="1275.0" x2="383.5" y2="1275.0" stroke="#000" stroke-opacity="0.07" stroke-width="1"/>
<line x1="467.5" y1="1218.5" x2="467.5" y2="1275.0" stroke="#000" stroke-opacity="0.08" stroke-width="1"/>
<line x1="383.5" y1="1275.0" x2="467.5" y2="1275.0" stroke="#000" stroke-opacity="0.05" stroke-width="1"/>
<line x1="552.5" y1="1218.5" x2="552.5" y2="1275.0" stroke="#000" stroke-opacity="0.12" stroke-width="1"/>
<line x1="467.5" y1="1275.0" x2="552.5" y2="1275.0" stroke="#000" stroke-opacity="0.1" stroke-width="1"/>
<line x1="636.5" y1="1218.5" x2="636.5" y2="1275.0" stroke="#000" stroke-opacity="0.15" stroke-width="1"/>
<line x1="552.5" y1="1275.0" x2="636.5" y2="1275.0" stroke="#000" stroke-opacity="0.12" stroke-width="1"/>
<line x1="721.5" y1="1218.5" x2="721.5" y2="1275.0" stroke="#000" stroke-opacity="0.15" stroke-width="1"/>
<line x1="636.5" y1="1275.0" x2="721.5" y2="1275.0" stroke="#000" stroke-opacity="0.15" stroke-width="1"/>
<line x1="805.5" y1="1218.5" x2="805.5" y2="1275.0" stroke="#000" stroke-opacity="0.17" stroke-width="1"/>
<line x1="721.5" y1="1275.0" x2="805.5" y2="1275.0" stroke="#000" stroke-opacity="0.15" stroke-width="1"/>
<line x1="890.5" y1="1218.5" x2="890.5" y2="1275.0" stroke="#000" stroke-opacity="0.17" stroke-width="1"/>
<line x1="805.5" y1="1275.0" x2="890.5" y2="1275.0" stroke="#000" stroke-opacity="0.17" stroke-width="1"/>
<line x1="974.5" y1="1218.5" x2="974.5" y2="1275.0" stroke="#000" stroke-opacity="0.18" stroke-width="1"/>
<line x1="890.5" y1="1275.0" x2="974.5" y2="1275.0" stroke="#000" stroke-opacity="0.17" stroke-width="1"/>
<line x1="1059.5" y1="1218.5" x2="1059.5" y2="1275.0" stroke="#000" stroke-opacity="0.18" stroke-width="1"/>
<line x1="974.5" y1="1275.0" x2="1059.5" y2="1275.0" stroke="#000" stroke-opacity="0.18" stroke-width="1"/>
<line x1="1059.5" y1="1275.0" x2="1143.5" y2="1275.0" stroke="#000" stroke-opacity="0.07" stroke-width="1"/>
<line x1="298.5" y1="1275.0" x2="298.5" y2="1331.0" stroke="#000" stroke-opacity="0.07" stroke-width="1"/>
<line x1="214.5" y1="1331.0" x2="298.5" y2="1331.0" stroke="#000" stroke-opacity="0.07" stroke-width="1"/>
<line x1="383.5" y1="1275.0" x2="383.5" y2="1331.0" stroke="#000" stroke-opacity="0.07" stroke-width="1"/>
<line x1="298.5" y1="1331.0" x2="383.5" y2="1331.0" stroke="#000" stroke-opacity="0.07" stroke-width="1"/>
<line x1="467.5" y1="1275.0" x2="467.5" y2="1331.0" stroke="#000" stroke-opacity="0.1" stroke-width="1"/>
<line x1="383.5" y1="1331.0" x2="467.5" y2="1331.0" stroke="#000" stroke-opacity="0.07" stroke-width="1"/>
<line x1="552.5" y1="1275.0" x2="552.5" y2="1331.0" stroke="#000" stroke-opacity="0.12" stroke-width="1"/>
<line x1="467.5" y1="1331.0" x2="552.5" y2="1331.0" stroke="#000" stroke-opacity="0.1" stroke-width="1"/>
<line x1="636.5" y1="1275.0" x2="636.5" y2="1331.0" stroke="#000" stroke-opacity="0.14" stroke-width="1"/>
<line x1="552.5" y1="1331.0" x2="636.5" y2="1331.0" stroke="#000" stroke-opacity="0.12" stroke-width="1"/>
<line x1="721.5" y1="1275.0" x2="721.5" y2="1331.0" stroke="#000" stroke-opacity="0.15" stroke-width="1"/>
<line x1="636.5" y1="1331.0" x2="721.5" y2="1331.0" stroke="#000" stroke-opacity="0.14" stroke-width="1"/>
<line x1="805.5" y1="1275.0" x2="805.5" y2="1331.0" stroke="#000" stroke-opacity="0.17" stroke-width="1"/>
<line x1="721.5" y1="1331.0" x2="805.5" y2="1331.0" stroke="#000" stroke-opacity="0.15" stroke-width="1"/>
<line x1="890.5" y1="1275.0" x2="890.5" y2="1331.0" stroke="#000" stroke-opacity="0.17" stroke-width="1"/>
<line x1="805.5" y1="1331.0" x2="890.5" y2="1331.0" stroke="#000" stroke-opacity="0.17" stroke-width="1"/>
<line x1="974.5" y1="1275.0" x2="974.5" y2="1331.0" stroke="#000" stroke-opacity="0.18" stroke-width="1"/>
<line x1="890.5" y1="1331.0" x2="974.5" y2="1331.0" stroke="#000" stroke-opacity="0.17" stroke-width="1"/>
<line x1="1059.5" y1="1275.0" x2="1059.5" y2="1331.0" stroke="#000" stroke-opacity="0.18" stroke-width="1"/>
<line x1="974.5" y1="1331.0" x2="1059.5" y2="1331.0" stroke="#000" stroke-opacity="0.18" stroke-width="1"/>
<line x1="1059.5" y1="1331.0" x2="1143.5" y2="1331.0" stroke="#000" stroke-opacity="0.18" stroke-width="1"/>
<line x1="298.5" y1="1331.0" x2="298.5" y2="1387.5" stroke="#000" stroke-opacity="0.07" stroke-width="1"/>
<line x1="214.5" y1="1387.5" x2="298.5" y2="1387.5" stroke="#000" stroke-opacity="0.07" stroke-width="1"/>
<line x1="383.5" y1="1331.0" x2="383.5" y2="1387.5" stroke="#000" stroke-opacity="0.07" stroke-width="1"/>
<line x1="298.5" y1="1387.5" x2="383.5" y2="1387.5" stroke="#000" stroke-opacity="0.07" stroke-width="1"/>
<line x1="467.5" y1="1331.0" x2="467.5" y2="1387.5" stroke="#000" stroke-opacity="0.1" stroke-width="1"/>
<line x1="383.5" y1="1387.5" x2="467.5" y2="1387.5" stroke="#000" stroke-opacity="0.07" stroke-width="1"/>
<line x1="552.5" y1="1331.0" x2="552.5" y2="1387.5" stroke="#000" stroke-opacity="0.12" stroke-width="1"/>
<line x1="467.5" y1="1387.5" x2="552.5" y2="1387.5" stroke="#000" stroke-opacity="0.1" stroke-width="1"/>
<line x1="636.5" y1="1331.0" x2="636.5" y2="1387.5" stroke="#000" stroke-opacity="0.14" stroke-width="1"/>
<line x1="552.5" y1="1387.5" x2="636.5" y2="1387.5" stroke="#000" stroke-opacity="0.12" stroke-width="1"/>
<line x1="721.5" y1="1331.0" x2="721.5" y2="1387.5" stroke="#000" stroke-opacity="0.15" stroke-width="1"/>
<line x1="636.5" y1="1387.5" x2="721.5" y2="1387.5" stroke="#000" stroke-opacity="0.14" stroke-width="1"/>
<line x1="805.5" y1="1331.0" x2="805.5" y2="1387.5" stroke="#000" stroke-opacity="0.17" stroke-width="1"/>
<line x1="721.5" y1="1387.5" x2="805.5" y2="1387.5" stroke="#000" stroke-opacity="0.15" stroke-width="1"/>
<line x1="890.5" y1="1331.0" x2="890.5" y2="1387.5" stroke="#000" stroke-opacity="0.17" stroke-width="1"/>
<line x1="805.5" y1="1387.5" x2="890.5" y2="1387.5" stroke="#000" stroke-opacity="0.17" stroke-width="1"/>
<line x1="974.5" y1="1331.0" x2="974.5" y2="1387.5" stroke="#000" stroke-opacity="0.18" stroke-width="1"/>
<line x1="890.5" y1="1387.5" x2="974.5" y2="1387.5" stroke="#000" stroke-opacity="0.17" stroke-width="1"/>
<line x1="1059.5" y1="1331.0" x2="1059.5" y2="1387.5" stroke="#000" stroke-opacity="0.18" stroke-width="1"/>
<line x1="974.5" y1="1387.5" x2="1059.5" y2="1387.5" stroke="#000" stroke-opacity="0.18" stroke-width="1"/>
<line x1="1059.5" y1="1387.5" x2="1143.5" y2="1387.5" stroke="#000" stroke-opacity="0.18" stroke-width="1"/>
<line x1="298.5" y1="1387.5" x2="298.5" y2="1441.0" stroke="#000" stroke-opacity="0.07" stroke-width="1"/>
<line x1="383.5" y1="1387.5" x2="383.5" y2="1441.0" stroke="#000" stroke-opacity="0.07" stroke-width="1"/>
<line x1="467.5" y1="1387.5" x2="467.5" y2="1441.0" stroke="#000" stroke-opacity="0.07" stroke-width="1"/>
<line x1="552.5" y1="1387.5" x2="552.5" y2="1441.0" stroke="#000" stroke-opacity="0.07" stroke-width="1"/>
<line x1="636.5" y1="1387.5" x2="636.5" y2="1441.0" stroke="#000" stroke-opacity="0.07" stroke-width="1"/>
<line x1="721.5" y1="1387.5" x2="721.5" y2="1441.0" stroke="#000" stroke-opacity="0.15" stroke-width="1"/>
<line x1="805.5" y1="1387.5" x2="805.5" y2="1441.0" stroke="#000" stroke-opacity="0.17" stroke-width="1"/>
<line x1="890.5" y1="1387.5" x2="890.5" y2="1441.0" stroke="#000" stroke-opacity="0.17" stroke-width="1"/>
<line x1="974.5" y1="1387.5" x2="974.5" y2="1441.0" stroke="#000" stroke-opacity="0.18" stroke-width="1"/>
<line x1="1059.5" y1="1387.5" x2="1059.5" y2="1441.0" stroke="#000" stroke-opacity="0.18" stroke-width="1"/>
<rect x="209.5" y="843.0" width="4.5" height="597.5" fill="#fff" fill-opacity=".2"/>
<line x1="214.5" y1="842.5" x2="214.5" y2="935.5" stroke="#a6a6a6" stroke-width="1"/>
<line x1="298.5" y1="842.5" x2="298.5" y2="935.5" stroke="#a6a6a6" stroke-width="1"/>
<line x1="383.5" y1="842.5" x2="383.5" y2="935.5" stroke="#a6a6a6" stroke-width="1"/>
<line x1="467.5" y1="842.5" x2="467.5" y2="935.5" stroke="#a6a6a6" stroke-width="1"/>
<line x1="552.5" y1="842.5" x2="552.5" y2="935.5" stroke="#a6a6a6" stroke-width="1"/>
<line x1="636.5" y1="842.5" x2="636.5" y2="935.5" stroke="#a6a6a6" stroke-width="1"/>
<line x1="721.5" y1="842.5" x2="721.5" y2="935.5" stroke="#a6a6a6" stroke-width="1"/>
<line x1="805.5" y1="842.5" x2="805.5" y2="935.5" stroke="#a6a6a6" stroke-width="1"/>
<line x1="890.5" y1="842.5" x2="890.5" y2="935.5" stroke="#a6a6a6" stroke-width="1"/>
<line x1="974.5" y1="842.5" x2="974.5" y2="935.5" stroke="#a6a6a6" stroke-width="1"/>
<line x1="1059.5" y1="842.5" x2="1059.5" y2="935.5" stroke="#a6a6a6" stroke-width="1"/>
<line x1="1143.5" y1="842.5" x2="1143.5" y2="935.5" stroke="#a6a6a6" stroke-width="1"/>
<line x1="214.5" y1="935.5" x2="214.5" y2="1441.0" stroke="#a6a6a6" stroke-width="1"/>
<line x1="13.5" y1="935.5" x2="214.5" y2="935.5" stroke="#949494" stroke-width="1"/>
<line x1="13.5" y1="994.5" x2="214.5" y2="994.5" stroke="#949494" stroke-width="1"/>
<line x1="13.5" y1="1050.5" x2="214.5" y2="1050.5" stroke="#949494" stroke-width="1"/>
<line x1="13.5" y1="1107.5" x2="214.5" y2="1107.5" stroke="#949494" stroke-width="1"/>
<line x1="13.5" y1="1163.5" x2="214.5" y2="1163.5" stroke="#949494" stroke-width="1"/>
<line x1="13.5" y1="1218.5" x2="214.5" y2="1218.5" stroke="#949494" stroke-width="1"/>
<line x1="13.5" y1="1275.0" x2="214.5" y2="1275.0" stroke="#949494" stroke-width="1"/>
<line x1="13.5" y1="1331.0" x2="214.5" y2="1331.0" stroke="#949494" stroke-width="1"/>
<line x1="13.5" y1="1387.5" x2="214.5" y2="1387.5" stroke="#949494" stroke-width="1"/>
<line x1="214.5" y1="935.5" x2="1143.5" y2="935.5" stroke="#a6a6a6" stroke-width="1"/>
<line x1="13.5" y1="842.0" x2="13.5" y2="1441.5" stroke="#9c9c9c" stroke-width="1"/>
<line x1="13.5" y1="842.5" x2="1143.5" y2="842.5" stroke="#a6a6a6" stroke-width="1"/>
<line x1="1143.5" y1="842.0" x2="1143.5" y2="1441.5" stroke="#b2b2b2" stroke-width="1"/>
<line x1="13.5" y1="1441.0" x2="1143.5" y2="1441.0" stroke="#b0b0b0" stroke-width="1"/>
</svg>
<div id="txt">
<div id="title">SIZE RECOMMENDATION</div>
<div class="t" style="left:407.30px;top:93.99px;font-size:26px;letter-spacing:2.055px;word-spacing:-3px;color:#3a3a3a;">tolerance of all body types</div>
<div class="t" style="left:392.70px;top:217.63px;font-size:16.5px;color:#2e2e2e;">S</div>
<div class="t m" style="left:391.70px;top:247.63px;font-size:16.5px;letter-spacing:2.017px;color:#2e2e2e;">Height:</div>
<div class="t" style="left:391.70px;top:277.63px;font-size:16.5px;letter-spacing:0.925px;color:#2e2e2e;">150-184cm</div>
<div class="t m" style="left:392.70px;top:307.63px;font-size:16.5px;letter-spacing:2.274px;color:#2e2e2e;">Weight:</div>
<div class="t" style="left:392.70px;top:337.63px;font-size:16.5px;letter-spacing:1.675px;color:#2e2e2e;">45-69kg</div>
<div class="t" style="left:837.70px;top:217.63px;font-size:16.5px;color:#2e2e2e;">M</div>
<div class="t m" style="left:837.70px;top:247.63px;font-size:16.5px;letter-spacing:2.017px;color:#2e2e2e;">Height:</div>
<div class="t" style="left:837.70px;top:277.63px;font-size:16.5px;letter-spacing:0.775px;color:#2e2e2e;">150-189cm</div>
<div class="t m" style="left:838.70px;top:307.63px;font-size:16.5px;letter-spacing:2.274px;color:#2e2e2e;">Weight:</div>
<div class="t" style="left:838.70px;top:337.63px;font-size:16.5px;letter-spacing:1.575px;color:#2e2e2e;">60-79kg</div>
<div class="t" style="left:231.70px;top:554.33px;font-size:16.5px;color:#2e2e2e;">L</div>
<div class="t m" style="left:231.70px;top:584.33px;font-size:16.5px;letter-spacing:2.017px;color:#2e2e2e;">Height:</div>
<div class="t" style="left:231.70px;top:614.33px;font-size:16.5px;letter-spacing:0.775px;color:#2e2e2e;">150-189cm</div>
<div class="t m" style="left:232.70px;top:644.33px;font-size:16.5px;letter-spacing:2.274px;color:#2e2e2e;">Weight:</div>
<div class="t" style="left:232.70px;top:674.33px;font-size:16.5px;letter-spacing:1.758px;color:#2e2e2e;">70-94kg</div>
<div class="t" style="left:604.90px;top:554.33px;font-size:16.5px;letter-spacing:1.095px;color:#2e2e2e;">XL</div>
<div class="t m" style="left:603.90px;top:584.33px;font-size:16.5px;letter-spacing:2.017px;color:#2e2e2e;">Height:</div>
<div class="t" style="left:603.90px;top:614.33px;font-size:16.5px;letter-spacing:0.875px;color:#2e2e2e;">150-194cm</div>
<div class="t m" style="left:604.90px;top:644.33px;font-size:16.5px;letter-spacing:2.274px;color:#2e2e2e;">Weight:</div>
<div class="t" style="left:604.90px;top:674.33px;font-size:16.5px;letter-spacing:0.842px;color:#2e2e2e;">80-114kg</div>
<div class="t" style="left:985.30px;top:554.33px;font-size:16.5px;letter-spacing:1.009px;color:#2e2e2e;">2XL</div>
<div class="t m" style="left:984.30px;top:584.33px;font-size:16.5px;letter-spacing:2.017px;color:#2e2e2e;">Height:</div>
<div class="t" style="left:984.30px;top:614.33px;font-size:16.5px;letter-spacing:0.887px;color:#2e2e2e;">160-199cm</div>
<div class="t m" style="left:985.30px;top:644.33px;font-size:16.5px;letter-spacing:2.274px;color:#2e2e2e;">Weight:</div>
<div class="t" style="left:985.30px;top:674.33px;font-size:16.5px;letter-spacing:0.768px;color:#2e2e2e;">95-139kg</div>
<div class="t" style="left:231.10px;top:444.14px;font-size:17.2px;letter-spacing:1.419px;word-spacing:-2px;">Inverted triangle</div>
<div class="t" style="left:686.30px;top:444.14px;font-size:17.2px;letter-spacing:1.293px;word-spacing:-2px;">Small rectangle</div>
<div class="t" style="left:106.30px;top:777.64px;font-size:17.2px;letter-spacing:1.044px;">ellipsoid</div>
<div class="t" style="left:427.90px;top:777.64px;font-size:17.2px;letter-spacing:1.196px;word-spacing:-2px;">Positive triangle</div>
<div class="t" style="left:821.50px;top:777.64px;font-size:17.2px;letter-spacing:1.625px;word-spacing:-2px;">Bucket type</div>
<div class="t" style="left:119.10px;top:852.76px;font-size:18px;letter-spacing:2.594px;">weight</div>
<div class="t" style="left:135.20px;top:880.46px;font-size:18px;letter-spacing:3.265px;color:#555;">(kg)</div>
<div class="t" style="left:32.00px;top:888.76px;font-size:18px;letter-spacing:2.592px;">height</div>
<div class="t" style="left:38.00px;top:913.76px;font-size:18px;letter-spacing:2.871px;color:#555;">(cm)</div>
<div class="t" style="left:230.23px;top:882.79px;font-size:18.2px;letter-spacing:1.650px;">45-54</div>
<div class="t" style="left:315.18px;top:882.79px;font-size:18.2px;letter-spacing:1.400px;">55-64</div>
<div class="t" style="left:398.14px;top:882.79px;font-size:18.2px;letter-spacing:2.150px;">64-74</div>
<div class="t" style="left:483.09px;top:882.79px;font-size:18.2px;letter-spacing:1.900px;">75-84</div>
<div class="t" style="left:567.55px;top:882.79px;font-size:18.2px;letter-spacing:1.900px;">85-94</div>
<div class="t" style="left:648.80px;top:882.79px;font-size:18.2px;letter-spacing:0.777px;">95-104</div>
<div class="t" style="left:730.75px;top:882.79px;font-size:18.2px;letter-spacing:-0.147px;">105-114</div>
<div class="t" style="left:815.91px;top:882.79px;font-size:18.2px;letter-spacing:-0.380px;">115-124</div>
<div class="t" style="left:898.66px;top:882.79px;font-size:18.2px;letter-spacing:-0.039px;">125-134</div>
<div class="t" style="left:982.32px;top:882.79px;font-size:18.2px;letter-spacing:0.228px;">135-144</div>
<div class="t" style="left:1066.77px;top:882.79px;font-size:18.2px;letter-spacing:0.228px;">135-144</div>
<div class="t" style="left:79.20px;top:959.59px;font-size:18.2px;letter-spacing:0.061px;">150-159</div>
<div class="t" style="left:79.20px;top:1015.84px;font-size:18.2px;letter-spacing:0.495px;">160-164</div>
<div class="t" style="left:79.20px;top:1072.09px;font-size:18.2px;letter-spacing:-0.022px;">165-169</div>
<div class="t" style="left:79.20px;top:1128.34px;font-size:18.2px;letter-spacing:0.395px;">170-174</div>
<div class="t" style="left:79.20px;top:1184.59px;font-size:18.2px;letter-spacing:-0.105px;">175-179</div>
<div class="t" style="left:79.20px;top:1240.84px;font-size:18.2px;letter-spacing:0.561px;">180-184</div>
<div class="t" style="left:79.20px;top:1297.09px;font-size:18.2px;letter-spacing:0.145px;">185-189</div>
<div class="t" style="left:79.20px;top:1353.34px;font-size:18.2px;letter-spacing:0.478px;">190-194</div>
<div class="t" style="left:79.20px;top:1409.59px;font-size:18.2px;letter-spacing:-0.022px;">195-199</div>
<div class="t" style="left:251.23px;top:958.19px;font-size:17.5px;">S</div>
<div class="t" style="left:335.68px;top:958.19px;font-size:17.5px;">S</div>
<div class="t" style="left:418.14px;top:958.19px;font-size:17.5px;">M</div>
<div class="t" style="left:504.59px;top:958.19px;font-size:17.5px;">L</div>
<div class="t" style="left:583.35px;top:958.19px;font-size:17.5px;letter-spacing:0.728px;">XL</div>
<div class="t" style="left:251.23px;top:1014.54px;font-size:17.5px;">S</div>
<div class="t" style="left:323.43px;top:1014.54px;font-size:17.5px;letter-spacing:2.483px;">S/M</div>
<div class="t" style="left:418.14px;top:1014.54px;font-size:17.5px;">M</div>
<div class="t" style="left:504.59px;top:1014.54px;font-size:17.5px;">L</div>
<div class="t" style="left:583.35px;top:1014.54px;font-size:17.5px;letter-spacing:0.728px;">XL</div>
<div class="t" style="left:646.50px;top:1014.54px;font-size:17.5px;letter-spacing:1.466px;">XL/2XL</div>
<div class="t" style="left:251.23px;top:1070.89px;font-size:17.5px;">S</div>
<div class="t" style="left:323.43px;top:1070.89px;font-size:17.5px;letter-spacing:2.483px;">S/M</div>
<div class="t" style="left:418.14px;top:1070.89px;font-size:17.5px;">M</div>
<div class="t" style="left:492.59px;top:1070.89px;font-size:17.5px;letter-spacing:2.280px;">M/L</div>
<div class="t" style="left:573.30px;top:1070.89px;font-size:17.5px;letter-spacing:1.744px;">L/XL</div>
<div class="t" style="left:646.50px;top:1070.89px;font-size:17.5px;letter-spacing:1.466px;">XL/2XL</div>
<div class="t" style="left:746.20px;top:1070.89px;font-size:17.5px;letter-spacing:1.547px;">2XL</div>
<div class="t" style="left:251.23px;top:1127.24px;font-size:17.5px;">S</div>
<div class="t" style="left:323.43px;top:1127.24px;font-size:17.5px;letter-spacing:2.483px;">S/M</div>
<div class="t" style="left:407.89px;top:1127.24px;font-size:17.5px;letter-spacing:2.483px;">S/M</div>
<div class="t" style="left:492.59px;top:1127.24px;font-size:17.5px;letter-spacing:2.280px;">M/L</div>
<div class="t" style="left:573.30px;top:1127.24px;font-size:17.5px;letter-spacing:1.744px;">L/XL</div>
<div class="t" style="left:646.50px;top:1127.24px;font-size:17.5px;letter-spacing:1.466px;">XL/2XL</div>
<div class="t" style="left:730.95px;top:1127.24px;font-size:17.5px;letter-spacing:1.466px;">XL/2XL</div>
<div class="t" style="left:830.66px;top:1127.24px;font-size:17.5px;letter-spacing:1.547px;">2XL</div>
<div class="t" style="left:915.11px;top:1127.24px;font-size:17.5px;letter-spacing:1.547px;">2XL</div>
<div class="t" style="left:323.43px;top:1183.59px;font-size:17.5px;letter-spacing:2.483px;">S/M</div>
<div class="t" style="left:407.89px;top:1183.59px;font-size:17.5px;letter-spacing:2.483px;">S/M</div>
<div class="t" style="left:492.59px;top:1183.59px;font-size:17.5px;letter-spacing:2.280px;">M/L</div>
<div class="t" style="left:573.30px;top:1183.59px;font-size:17.5px;letter-spacing:1.744px;">L/XL</div>
<div class="t" style="left:646.50px;top:1183.59px;font-size:17.5px;letter-spacing:1.466px;">XL/2XL</div>
<div class="t" style="left:730.95px;top:1183.59px;font-size:17.5px;letter-spacing:1.466px;">XL/2XL</div>
<div class="t" style="left:830.66px;top:1183.59px;font-size:17.5px;letter-spacing:1.547px;">2XL</div>
<div class="t" style="left:915.11px;top:1183.59px;font-size:17.5px;letter-spacing:1.547px;">2XL</div>
<div class="t" style="left:999.82px;top:1183.59px;font-size:17.5px;letter-spacing:1.297px;">3XL</div>
<div class="t" style="left:323.43px;top:1239.94px;font-size:17.5px;letter-spacing:2.483px;">S/M</div>
<div class="t" style="left:418.14px;top:1239.94px;font-size:17.5px;">M</div>
<div class="t" style="left:492.59px;top:1239.94px;font-size:17.5px;letter-spacing:2.280px;">M/L</div>
<div class="t" style="left:573.30px;top:1239.94px;font-size:17.5px;letter-spacing:1.744px;">L/XL</div>
<div class="t" style="left:646.50px;top:1239.94px;font-size:17.5px;letter-spacing:1.466px;">XL/2XL</div>
<div class="t" style="left:730.95px;top:1239.94px;font-size:17.5px;letter-spacing:1.466px;">XL/2XL</div>
<div class="t" style="left:830.66px;top:1239.94px;font-size:17.5px;letter-spacing:1.547px;">2XL</div>
<div class="t" style="left:915.11px;top:1239.94px;font-size:17.5px;letter-spacing:1.547px;">2XL</div>
<div class="t" style="left:999.82px;top:1239.94px;font-size:17.5px;letter-spacing:1.297px;">3XL</div>
<div class="t" style="left:418.14px;top:1296.29px;font-size:17.5px;">M</div>
<div class="t" style="left:504.59px;top:1296.29px;font-size:17.5px;">L</div>
<div class="t" style="left:573.30px;top:1296.29px;font-size:17.5px;letter-spacing:1.744px;">L/XL</div>
<div class="t" style="left:667.80px;top:1296.29px;font-size:17.5px;letter-spacing:0.728px;">XL</div>
<div class="t" style="left:730.95px;top:1296.29px;font-size:17.5px;letter-spacing:1.466px;">XL/2XL</div>
<div class="t" style="left:830.66px;top:1296.29px;font-size:17.5px;letter-spacing:1.547px;">2XL</div>
<div class="t" style="left:915.11px;top:1296.29px;font-size:17.5px;letter-spacing:1.547px;">2XL</div>
<div class="t" style="left:999.82px;top:1296.29px;font-size:17.5px;letter-spacing:1.297px;">3XL</div>
<div class="t" style="left:504.59px;top:1352.64px;font-size:17.5px;">L</div>
<div class="t" style="left:573.30px;top:1352.64px;font-size:17.5px;letter-spacing:1.744px;">L/XL</div>
<div class="t" style="left:667.80px;top:1352.64px;font-size:17.5px;letter-spacing:0.728px;">XL</div>
<div class="t" style="left:730.95px;top:1352.64px;font-size:17.5px;letter-spacing:1.466px;">XL/2XL</div>
<div class="t" style="left:830.66px;top:1352.64px;font-size:17.5px;letter-spacing:1.547px;">2XL</div>
<div class="t" style="left:915.11px;top:1352.64px;font-size:17.5px;letter-spacing:1.547px;">2XL</div>
<div class="t" style="left:999.82px;top:1352.64px;font-size:17.5px;letter-spacing:1.297px;">3XL</div>
<div class="t" style="left:1084.27px;top:1352.64px;font-size:17.5px;letter-spacing:1.297px;">3XL</div>
<div class="t" style="left:730.95px;top:1408.99px;font-size:17.5px;letter-spacing:1.466px;">XL/2XL</div>
<div class="t" style="left:830.66px;top:1408.99px;font-size:17.5px;letter-spacing:1.547px;">2XL</div>
<div class="t" style="left:915.11px;top:1408.99px;font-size:17.5px;letter-spacing:1.547px;">2XL</div>
<div class="t" style="left:999.82px;top:1408.99px;font-size:17.5px;letter-spacing:1.297px;">3XL</div>
<div class="t" style="left:1084.27px;top:1408.99px;font-size:17.5px;letter-spacing:1.297px;">3XL</div>
<div class="t tip" style="left:160.20px;top:1462.46px;font-size:18.6px;letter-spacing:1.735px;word-spacing:-2.2px;color:#999;">Tips: The size recommendation is for reference only, please choose according to your actual situation</div>
</div>
</div></body></html>
